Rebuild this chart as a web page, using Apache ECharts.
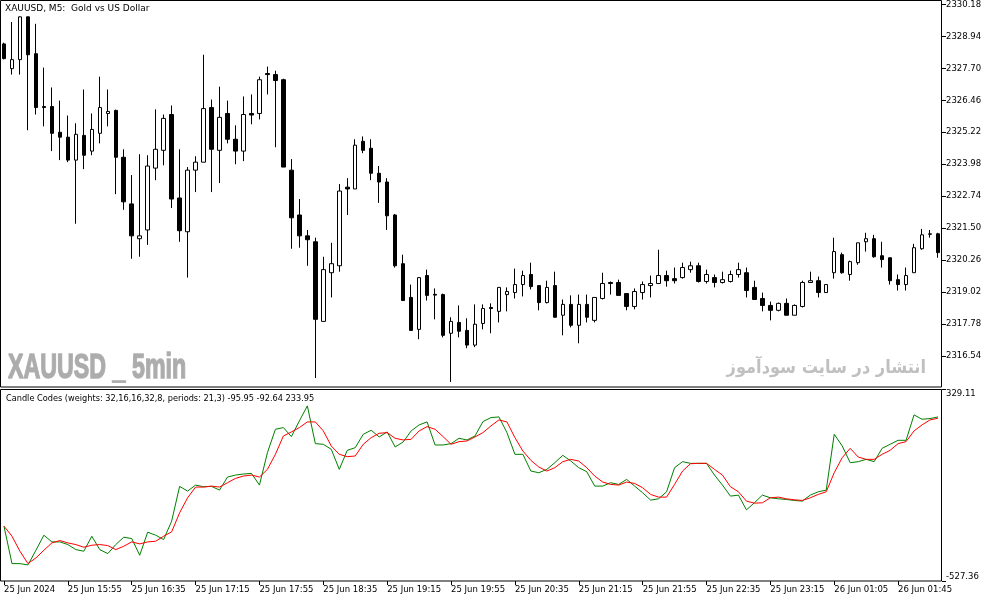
<!DOCTYPE html>
<html><head><meta charset="utf-8">
<script src="https://cdn.jsdelivr.net/npm/echarts@6/dist/echarts.min.js"></script>
<style>html,body{margin:0;padding:0;background:#fff}#c{width:994px;height:603px}</style>
</head><body><div id="c"></div><script>
// ---- data ----
const tickLabels = ['25 Jun 2024','25 Jun 15:55','25 Jun 16:35','25 Jun 17:15','25 Jun 17:55','25 Jun 18:35','25 Jun 19:15','25 Jun 19:55','25 Jun 20:35','25 Jun 21:15','25 Jun 21:55','25 Jun 22:35','25 Jun 23:15','26 Jun 01:05','26 Jun 01:45'];
const priceTicks = [2316.54,2317.78,2319.02,2320.26,2321.50,2322.74,2323.98,2325.22,2326.46,2327.70,2328.94,2330.18];
const indTicks = [-527.36, 329.11];

const opens = [2328.65,2327.69,2328.04,2329.70,2328.27,2326.22,2326.22,2325.22,2325.03,2324.14,
2325.10,2324.49,2325.18,2325.95,2326.07,2324.25,2322.44,2321.09,2321.43,2323.83,
2324.52,2325.91,2322.67,2321.36,2323.75,2324.06,2326.18,2324.52,2325.95,2324.95,
2324.49,2325.95,2325.95,2327.50,2327.46,2327.26,2323.75,2322.01,2321.20,2320.97,
2317.88,2319.77,2320.04,2323.09,2323.02,2324.87,2324.60,2323.63,2323.29,2322.01,
2320.12,2318.81,2317.57,2319.66,2318.93,2318.92,2317.42,2317.84,2317.53,2316.96,
2317.80,2318.42,2318.27,2318.92,2319.00,2319.31,2319.70,2319.27,2318.61,2319.27,
2318.12,2318.54,2317.73,2318.54,2317.92,2318.77,2319.39,2319.39,2318.96,2318.46,
2319.00,2319.27,2319.35,2319.66,2319.54,2319.58,2319.89,2320.04,2319.43,2319.58,
2319.39,2319.43,2319.70,2319.77,2319.20,2318.77,2318.50,2318.31,2318.58,2318.12,
2318.46,2319.39,2319.46,2319.00,2319.77,2320.47,2319.70,2320.16,2320.97,2321.09,
2320.43,2320.35,2319.50,2319.31,2319.77,2320.70,2321.26,2321.28];
const highs = [2328.70,2329.50,2329.72,2329.72,2329.43,2327.73,2326.96,2326.45,2325.87,2325.57,
2326.88,2325.95,2327.38,2326.88,2326.10,2324.56,2323.56,2324.37,2324.33,2326.11,
2325.91,2326.26,2324.56,2323.87,2324.29,2328.23,2326.49,2326.99,2326.45,2325.49,
2326.61,2326.69,2327.38,2327.77,2327.61,2327.30,2324.18,2322.63,2321.43,2321.13,
2320.39,2320.93,2323.21,2323.44,2324.95,2325.06,2324.95,2323.91,2323.44,2322.05,
2320.47,2319.31,2319.58,2319.89,2319.16,2318.96,2318.04,2318.50,2318.00,2318.54,
2318.54,2318.58,2319.20,2319.20,2319.93,2319.85,2320.16,2319.27,2319.46,2319.81,
2318.73,2318.89,2318.92,2318.92,2318.81,2319.77,2319.43,2319.50,2318.96,2319.16,
2319.43,2319.66,2320.66,2319.85,2319.97,2320.16,2320.20,2320.16,2319.89,2319.70,
2319.81,2319.85,2320.16,2319.97,2319.46,2319.00,2318.65,2318.61,2318.77,2318.54,
2319.46,2319.81,2319.62,2319.31,2321.13,2320.55,2320.24,2320.93,2321.32,2321.24,
2320.97,2320.35,2319.70,2319.97,2320.89,2321.47,2321.43,2321.32];
const lows = [2328.05,2327.46,2327.46,2325.30,2325.91,2325.45,2324.49,2324.14,2324.06,2321.67,
2323.79,2324.33,2324.79,2325.45,2322.82,2322.21,2320.31,2320.39,2320.85,2323.36,
2323.94,2322.28,2320.97,2319.58,2322.90,2324.06,2322.90,2323.25,2324.79,2323.98,
2324.10,2325.53,2325.72,2326.69,2324.64,2323.87,2320.70,2320.74,2320.04,2315.68,
2317.88,2318.81,2319.81,2322.01,2323.02,2324.41,2323.36,2322.48,2321.43,2319.97,
2318.69,2317.53,2317.19,2318.69,2317.96,2317.26,2315.53,2317.26,2316.84,2316.88,
2317.57,2317.42,2317.84,2318.27,2318.77,2318.85,2319.12,2318.31,2318.58,2318.04,
2317.34,2317.65,2317.03,2317.84,2317.84,2318.73,2318.92,2318.89,2318.31,2318.35,
2318.73,2318.81,2319.35,2319.23,2319.35,2319.54,2319.77,2319.39,2319.35,2319.20,
2319.35,2319.39,2319.58,2318.81,2318.73,2318.27,2317.92,2318.27,2318.12,2318.12,
2318.42,2319.39,2318.81,2319.00,2319.54,2319.73,2319.46,2320.08,2320.59,2320.35,
2319.97,2319.31,2319.08,2319.08,2319.77,2320.66,2321.13,2320.35];
const closes = [2328.08,2328.04,2329.70,2328.23,2326.18,2326.18,2325.18,2325.03,2324.14,2325.14,
2324.33,2325.33,2326.18,2326.03,2324.25,2322.52,2321.20,2321.20,2323.91,2324.56,
2325.76,2322.63,2321.40,2323.75,2324.06,2326.14,2324.56,2325.80,2324.95,2324.49,
2325.91,2325.89,2327.26,2327.46,2327.23,2323.87,2321.90,2321.20,2321.05,2317.96,
2319.89,2320.12,2322.94,2323.02,2324.72,2324.52,2323.63,2323.29,2321.98,2320.04,
2318.69,2317.53,2319.58,2318.89,2318.90,2317.34,2317.88,2317.50,2316.96,2317.77,
2318.38,2318.38,2319.20,2319.04,2319.31,2319.66,2319.23,2318.61,2319.20,2318.04,
2318.54,2317.73,2318.54,2318.04,2318.81,2319.35,2319.35,2318.89,2318.46,2319.04,
2319.31,2319.35,2319.66,2319.46,2319.46,2319.97,2320.04,2319.43,2319.70,2319.39,
2319.50,2319.70,2319.89,2319.08,2318.73,2318.50,2318.31,2318.58,2318.12,2318.50,
2319.39,2319.46,2319.00,2319.31,2320.59,2319.77,2320.20,2320.93,2321.09,2320.39,
2320.28,2319.46,2319.31,2319.66,2320.74,2321.24,2321.28,2320.55];

const codeLine = [-282.2,-449.6,-449.6,-455.6,-389.8,-322.6,-352.5,-352.5,-364.4,-386.9,
-394.3,-327.1,-386.9,-404.8,-364.4,-331.5,-337.5,-412.3,-309.1,-322.6,
-342.0,-259.8,-104.3,-125.3,-98.4,-105.8,-104.3,-120.8,-62.5,-53.5,
-49.0,-46.0,-98.4,46.6,151.2,158.7,118.4,188.6,255.9,87.0,
84.0,61.6,-28.1,57.1,69.0,128.8,146.8,116.9,139.3,72.0,
94.4,143.8,170.7,184.1,81.0,81.0,87.0,110.9,103.4,121.3,
185.6,203.6,206.5,136.3,39.2,39.2,-35.6,-43.1,-28.1,1.8,
34.7,9.2,-20.6,-38.6,-102.9,-102.9,-87.9,-95.4,-73.0,-102.9,
-132.7,-165.6,-159.7,-128.3,-20.6,6.3,-1.2,-1.2,-1.2,-53.5,
-98.4,-147.7,-143.2,-209.0,-177.6,-143.2,-155.2,-159.7,-162.7,-167.1,
-170.1,-143.2,-128.3,-120.8,128.8,76.5,1.8,6.3,16.7,6.3,
66.0,84.0,101.9,101.9,215.5,196.1,199.1,206.5];
const signalLine = [-282.2,-327.1,-394.3,-449.6,-424.2,-389.8,-357.0,-346.5,-357.0,-364.4,
-376.4,-367.4,-364.4,-368.9,-386.9,-371.9,-352.5,-361.4,-352.5,-349.5,
-327.1,-307.6,-222.4,-155.2,-107.3,-107.3,-102.9,-107.3,-87.9,-68.5,
-58.0,-53.5,-62.5,-28.1,39.2,121.3,139.3,158.7,184.1,184.1,
143.8,76.5,39.2,28.7,31.7,84.0,113.9,133.3,136.3,110.9,
103.4,106.4,143.8,163.2,151.2,118.4,84.0,95.9,98.9,116.9,
136.3,166.2,193.1,184.1,113.9,54.1,12.2,-17.7,-35.6,-20.6,
6.3,16.7,9.2,-20.6,-58.0,-84.9,-95.4,-98.4,-84.9,-90.9,
-110.3,-140.2,-152.2,-152.2,-95.4,-35.6,-2.7,-1.2,-1.2,-28.1,
-53.5,-105.8,-128.3,-170.1,-179.1,-177.6,-155.2,-152.2,-159.7,-164.1,
-167.1,-155.2,-140.2,-128.3,-43.1,24.2,66.0,27.2,16.7,16.7,
39.2,57.1,87.0,95.9,143.8,170.7,193.1,200.6];

// categories: 5-minute bars, 25 Jun 15:15 .. 23:50, then 26 Jun 01:05 ..
const categories = [];
for (let i = 0; i < opens.length; i++) {
  const m = i < 104 ? 15 * 60 + 15 + 5 * i : 65 + 5 * (i - 104);
  const d = i < 104 ? '25 Jun ' : '26 Jun ';
  categories.push(d + String(Math.floor(m / 60)).padStart(2, '0') + ':' + String(m % 60).padStart(2, '0'));
}
const candles = opens.map((o, i) => [o, closes[i], lows[i], highs[i]]);

const FONT = 'DejaVu Sans';
const chart = echarts.init(document.getElementById('c'), null, {renderer: 'canvas'});
chart.setOption({
  animation: false,
  backgroundColor: '#ffffff',
  grid: [
    {left: -2, top: 0.5, width: 944, height: 386.5},
    {left: -2, top: 389.5, width: 944, height: 191.5}
  ],
  xAxis: [
    {type: 'category', gridIndex: 0, data: categories, boundaryGap: true, show: false},
    {type: 'category', gridIndex: 1, data: categories, boundaryGap: true, position: 'bottom',
     axisLine: {show: false, onZero: false}, splitLine: {show: false},
     axisTick: {show: true, alignWithLabel: true, interval: 7, length: 4, lineStyle: {color: '#000', width: 1}},
     axisLabel: {interval: 7, align: 'left', margin: 4, color: '#000', fontFamily: FONT, fontSize: 8.5,
                 formatter: (v, i) => tickLabels[Math.round(i / 8)]}}
  ],
  yAxis: [
    {type: 'value', gridIndex: 0, position: 'right', min: 2315.334, max: 2330.257,
     axisLine: {show: false}, splitLine: {show: false},
     axisTick: {show: true, length: 4, customValues: priceTicks, lineStyle: {color: '#000'}},
     axisLabel: {customValues: priceTicks, margin: 4, color: '#000', fontFamily: FONT, fontSize: 8.5,
                 formatter: v => v.toFixed(2)}},
    {type: 'value', gridIndex: 1, position: 'right', min: indTicks[0], max: indTicks[1],
     axisLine: {show: false}, splitLine: {show: false},
     axisTick: {show: true, length: 4, customValues: indTicks, lineStyle: {color: '#000'}},
     axisLabel: {customValues: indTicks, margin: 4, color: '#000', fontFamily: FONT, fontSize: 8.5,
                 verticalAlignMinLabel: 'bottom', verticalAlignMaxLabel: 'top',
                 formatter: v => v.toFixed(2)}}
  ],
  series: [
    {type: 'candlestick', xAxisIndex: 0, yAxisIndex: 0, data: candles, barWidth: 4,
     itemStyle: {color: '#ffffff', color0: '#000000', borderColor: '#000000', borderColor0: '#000000', borderWidth: 1}},
    {type: 'line', xAxisIndex: 1, yAxisIndex: 1, data: codeLine, symbol: 'none',
     lineStyle: {color: '#008000', width: 1}, itemStyle: {color: '#008000'}},
    {type: 'line', xAxisIndex: 1, yAxisIndex: 1, data: signalLine, symbol: 'none',
     lineStyle: {color: '#ff0000', width: 1}, itemStyle: {color: '#ff0000'}}
  ],
  graphic: [
    {type: 'rect', z: 100, shape: {x: 0.5, y: 0.5, width: 941, height: 386.5},
     style: {fill: 'none', stroke: '#000', lineWidth: 1}},
    {type: 'rect', z: 100, shape: {x: 0.5, y: 389.5, width: 941, height: 191.5},
     style: {fill: 'none', stroke: '#000', lineWidth: 1}},
    {type: 'text', z: 100, x: 5, y: 9,
     style: {text: 'XAUUSD, M5:  Gold vs US Dollar', font: '9px "DejaVu Sans"', fill: '#000', verticalAlign: 'middle'}},
    {type: 'text', z: 100, x: 6, y: 399,
     style: {text: 'Candle Codes (weights: 32,16,16,32,8, periods: 21,3) -95.95 -92.64 233.95', font: '8.2px "DejaVu Sans"', fill: '#000', verticalAlign: 'middle'}},
    {type: 'text', z: 1, x: 8, y: 368, scaleX: 0.664,
     style: {text: 'XAUUSD _ 5min', font: 'bold 35px "Liberation Sans"', fill: '#acacac', stroke: '#b4b4b4', lineWidth: 1.5, verticalAlign: 'middle'}},
    {type: 'text', z: 1, x: 926, y: 368, scaleX: 0.9, originX: 0,
     style: {text: 'انتشار در سایت سودآموز', font: 'bold 18px "DejaVu Sans"', fill: '#c0c0c0', align: 'right', verticalAlign: 'middle'}}
  ]
});
</script></body></html>
